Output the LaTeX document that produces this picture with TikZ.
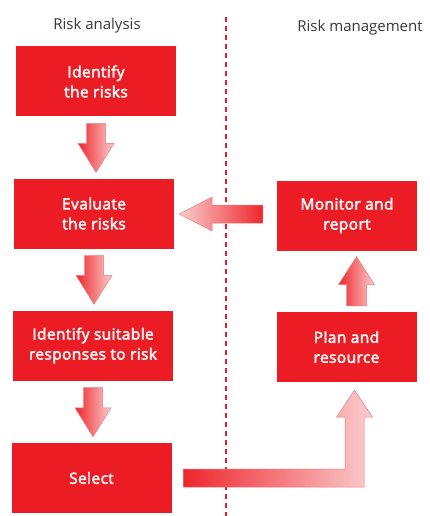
\documentclass[tikz,border=0pt]{standalone}
\usepackage{fontspec}
\setmainfont{Open Sans}
\newfontfamily\stagefont{Open Sans}[FakeBold=3,LetterSpace=2.5]
\usetikzlibrary{calc}
\definecolor{boxred}{RGB}{236,28,36}
\definecolor{arrowred}{RGB}{238,38,44}
\definecolor{arrowpink}{RGB}{250,206,206}
\definecolor{arrowedge}{RGB}{240,120,120}
\definecolor{titlegray}{RGB}{55,55,55}

\begin{document}
\begin{tikzpicture}[x=1pt,y=-1pt,
    stage/.style={fill=boxred,text=white!96!red,minimum height=70pt,inner sep=0pt,align=center,
      font=\stagefont\fontsize{15.5}{20}\selectfont},
    leftbox/.style={stage,minimum width=160pt},
    rightbox/.style={stage,minimum width=140pt},
    heading/.style={text=titlegray,font=\fontsize{15}{18}\selectfont},
    blockarrow/.style={draw=arrowedge,line width=0.5pt,line join=miter}]
  \useasboundingbox (0,0) rectangle (430,516);
  \node[heading](analysis) at (97,26) {Risk analysis};
  \node[heading](management) at (360,28) {Risk management};
  \node[leftbox](identify) at (96,81.5) {Identify\\the risks};
  \node[leftbox](evaluate) at (94,213.5) {Evaluate\\the risks};
  \node[leftbox](respond) at (93,345.5) {Identify suitable\\responses to risk};
  \node[leftbox](select) at (91.5,478) {Select};
  \node[rightbox](monitor) at (347,215.5) {Monitor and\\report};
  \node[rightbox](plan) at (346.5,347) {Plan and\\resource};
  \coordinate(divtop) at (226,17);
  \coordinate(divbottom) at (226,516);
  \draw[boxred,line width=2.2pt,dash pattern=on 5pt off 4pt](divtop)--(divbottom);
  \foreach \from/\to in {identify/evaluate,evaluate/respond,respond/select}{
    \coordinate(s) at ($(\from.south)+(0,7)$);
    \coordinate(t) at ($(\from.south|-\to.north)+(0,-6)$);
    \shadedraw[blockarrow,left color=arrowred,right color=arrowpink]
      ($(s)+(-9.5,0)$)--($(t)+(-9.5,-29)$)--($(t)+(-18,-29)$)--(t)
      --($(t)+(18,-29)$)--($(t)+(9.5,-29)$)--($(s)+(9.5,0)$)--cycle;
  }
  \coordinate(u) at ($(plan.north)+(10,-6)$);
  \coordinate(utip) at ($(plan.north|-monitor.south)+(10,6)$);
  \shadedraw[blockarrow,left color=arrowred,right color=arrowpink]
    ($(u)+(-10,0)$)--($(utip)+(-10,28)$)--($(utip)+(-18,28)$)--(utip)
    --($(utip)+(18,28)$)--($(utip)+(10,28)$)--($(u)+(10,0)$)--cycle;
  \coordinate(l) at ($(monitor.west)+(-14,-1.5)$);
  \coordinate(ltip) at ($(evaluate.east|-l)+(5,0)$);
  \shadedraw[blockarrow,left color=arrowpink,right color=arrowred]
    ($(l)+(0,-9)$)--($(ltip)+(33,-9)$)--($(ltip)+(33,-17)$)--(ltip)
    --($(ltip)+(33,17)$)--($(ltip)+(33,9)$)--($(l)+(0,9)$)--cycle;
  \coordinate(e) at ($(select.east)+(12,0)$);
  \coordinate(etip) at ($(plan.south)+(8,8)$);
  \coordinate(corner) at (etip|-e);
  \shadedraw[blockarrow,left color=arrowred,right color=arrowpink]
    ($(e)+(0,-9)$)--($(corner)+(-9.5,-9)$)--($(etip)+(-9.5,27)$)--($(etip)+(-18,27)$)
    --(etip)--($(etip)+(18,27)$)--($(etip)+(9.5,27)$)--($(corner)+(9.5,9)$)
    --($(e)+(0,9)$)--cycle;
\end{tikzpicture}
\end{document}
